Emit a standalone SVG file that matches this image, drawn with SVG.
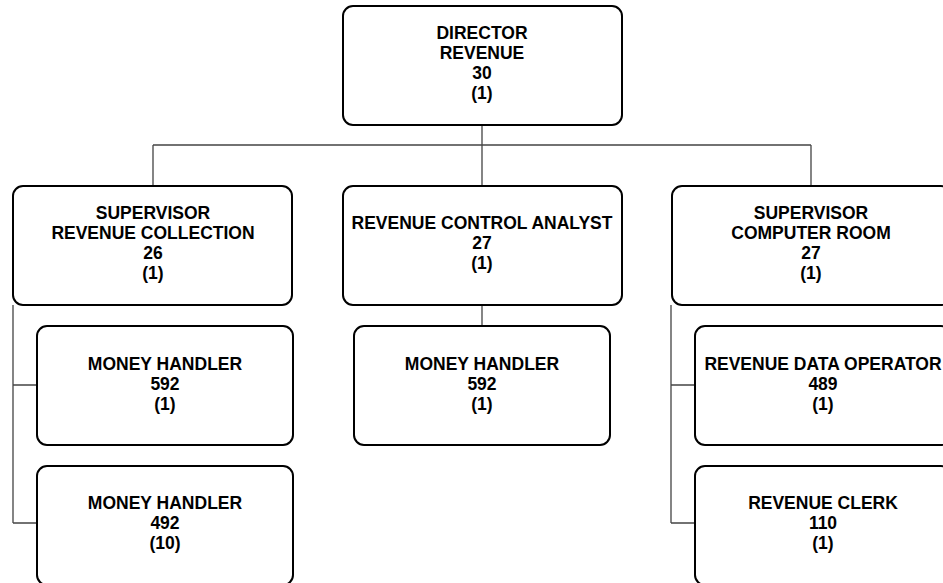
<svg xmlns="http://www.w3.org/2000/svg" width="943" height="583" viewBox="0 0 943 583">
<style>
.box{fill:#fff;stroke:#000;stroke-width:2}
.t{font-family:"Liberation Sans",Arial,sans-serif;font-weight:bold;font-size:17.5px;fill:#000;text-anchor:middle}
.c{fill:none;stroke:#444;stroke-width:1.3}
</style>
<rect width="943" height="583" fill="#fff"/>
<g id="connectors">
<path class="c" d="M482,125V185M153,145H811M153,145V185M811,145V185"/>
<path class="c" d="M13,305V523M13,385H37M13,523H37"/>
<path class="c" d="M482,305V325"/>
<path class="c" d="M671,305V523M671,385H695M671,523H695"/>
</g>
<g id="director">
<rect class="box" x="343" y="6" width="279" height="119" rx="10"/>
<text class="t" x="482" y="39">DIRECTOR</text>
<text class="t" x="482" y="59">REVENUE</text>
<text class="t" x="482" y="79">30</text>
<text class="t" x="482" y="99">(1)</text>
</g>
<g id="sup-collection">
<rect class="box" x="13" y="186" width="279" height="119" rx="10"/>
<text class="t" x="153" y="219">SUPERVISOR</text>
<text class="t" x="153" y="239">REVENUE COLLECTION</text>
<text class="t" x="153" y="259">26</text>
<text class="t" x="153" y="279">(1)</text>
</g>
<g id="analyst">
<rect class="box" x="343" y="186" width="279" height="119" rx="10"/>
<text class="t" x="482" y="229">REVENUE CONTROL ANALYST</text>
<text class="t" x="482" y="249">27</text>
<text class="t" x="482" y="269">(1)</text>
</g>
<g id="sup-computer">
<rect class="box" x="672" y="186" width="279" height="119" rx="10"/>
<text class="t" x="811" y="219">SUPERVISOR</text>
<text class="t" x="811" y="239">COMPUTER ROOM</text>
<text class="t" x="811" y="259">27</text>
<text class="t" x="811" y="279">(1)</text>
</g>
<g id="money-592-left">
<rect class="box" x="37" y="326" width="256" height="119" rx="10"/>
<text class="t" x="165" y="370">MONEY HANDLER</text>
<text class="t" x="165" y="390">592</text>
<text class="t" x="165" y="410">(1)</text>
</g>
<g id="money-492">
<rect class="box" x="37" y="466" width="256" height="119" rx="10"/>
<text class="t" x="165" y="509">MONEY HANDLER</text>
<text class="t" x="165" y="529">492</text>
<text class="t" x="165" y="549">(10)</text>
</g>
<g id="money-592-mid">
<rect class="box" x="354" y="326" width="256" height="119" rx="10"/>
<text class="t" x="482" y="370">MONEY HANDLER</text>
<text class="t" x="482" y="390">592</text>
<text class="t" x="482" y="410">(1)</text>
</g>
<g id="data-operator">
<rect class="box" x="695" y="326" width="256" height="119" rx="10"/>
<text class="t" x="823" y="370">REVENUE DATA OPERATOR</text>
<text class="t" x="823" y="390">489</text>
<text class="t" x="823" y="410">(1)</text>
</g>
<g id="clerk">
<rect class="box" x="695" y="466" width="256" height="119" rx="10"/>
<text class="t" x="823" y="509">REVENUE CLERK</text>
<text class="t" x="823" y="529">110</text>
<text class="t" x="823" y="549">(1)</text>
</g>
</svg>
